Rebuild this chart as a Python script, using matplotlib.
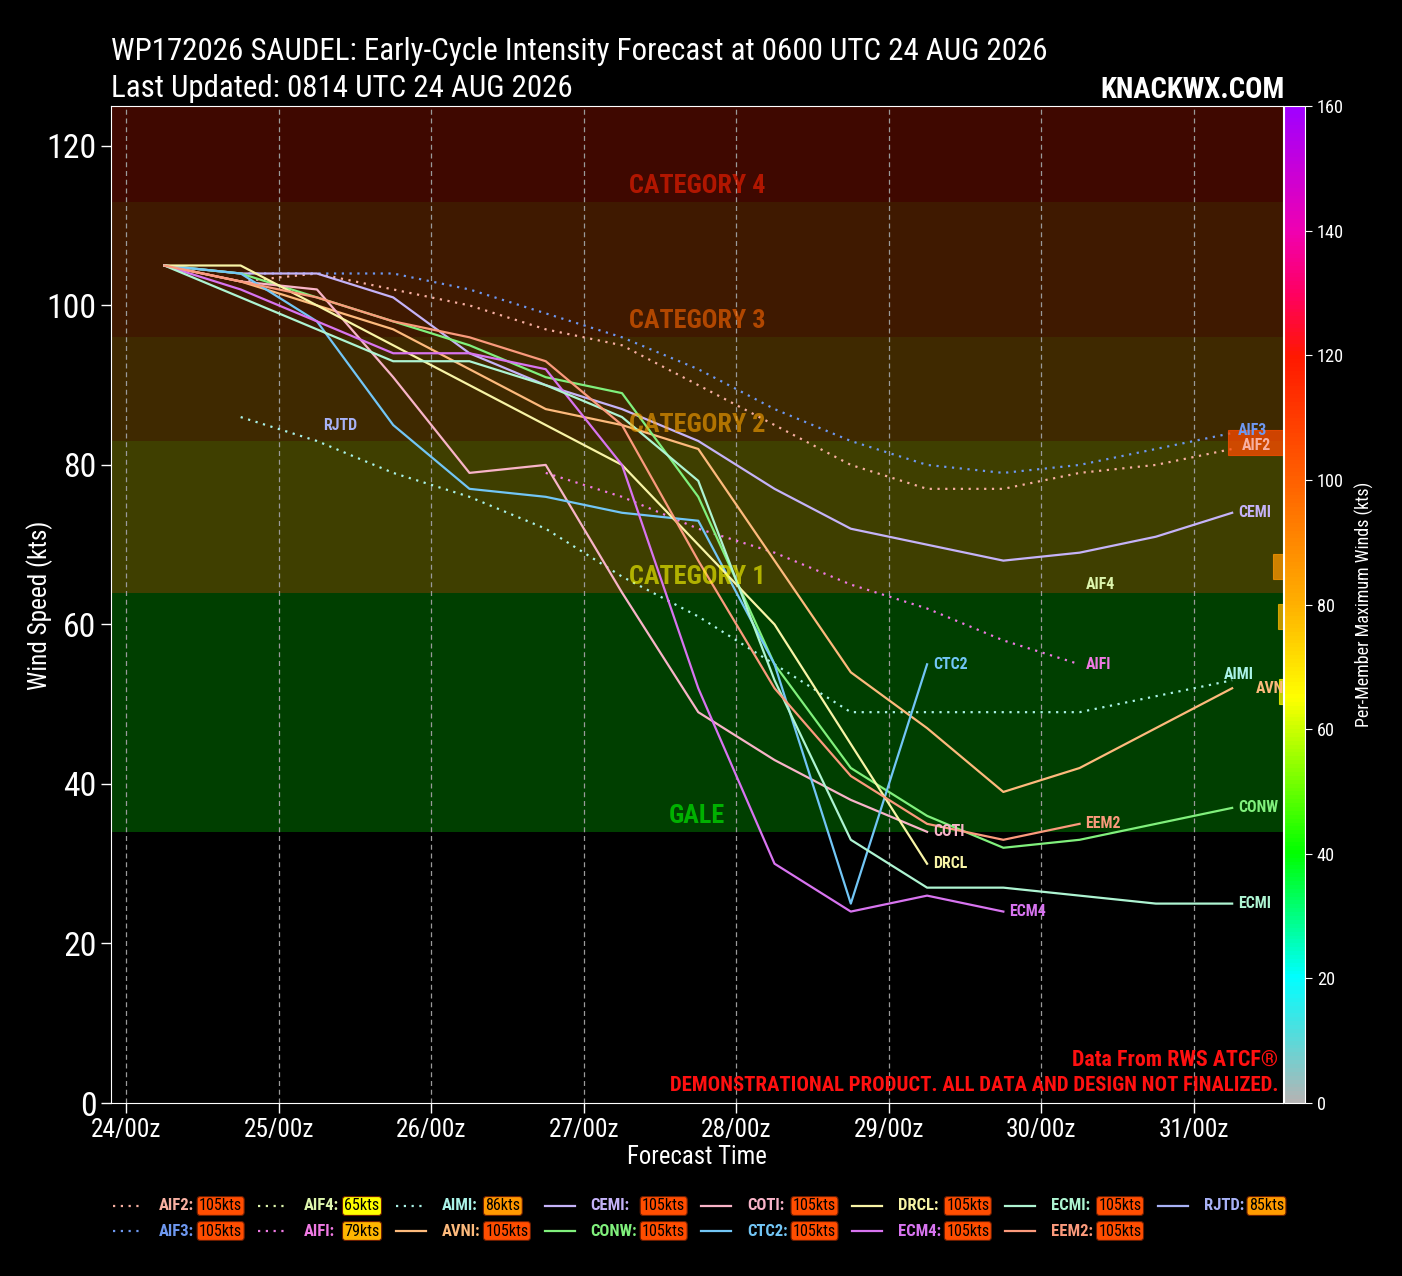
import numpy as np
import matplotlib
matplotlib.use('Agg')
import matplotlib.pyplot as plt
from matplotlib.colors import LinearSegmentedColormap, Normalize
from matplotlib.cm import ScalarMappable
from matplotlib.lines import Line2D
from matplotlib.patches import Rectangle
import matplotlib.transforms as mtransforms

plt.rcParams['font.family'] = ['Roboto Condensed', 'Liberation Sans', 'DejaVu Sans']

W, H = 1402, 1276
nan = np.nan

# forecast hours after 24/00z (cycle 0600 UTC)
fhr = [6, 18, 30, 42, 54, 66, 78, 90, 102, 114, 126, 138, 150, 162, 174]

models = ['AIF2', 'AIF3', 'AIF4', 'AIFI', 'AIMI', 'AVNI', 'CEMI', 'CONW',
          'COTI', 'CTC2', 'DRCL', 'ECM4', 'ECMI', 'EEM2', 'RJTD']

AIF2 = [nan, 103, 104, 102, 100, 97, 95, 90, 85, 80, 77, 77, 79, 80, 82]
AIF3 = [nan, 104, 104, 104, 102, 99, 96, 92, 87, 83, 80, 79, 80, 82, 84]
AIF4 = [nan, nan, nan, nan, nan, nan, nan, nan, nan, nan, nan, nan, 65, nan, nan]
AIFI = [nan, nan, nan, nan, nan, 79, 76, 72, 69, 65, 62, 58, 55, nan, nan]
AIMI = [nan, 86, 83, 79, 76, 72, 66, 61, 55, 49, 49, 49, 49, 51, 53]
AVNI = [105, 103, 100, 97, 92, 87, 85, 82, 68, 54, 47, 39, 42, 47, 52]
CEMI = [105, 104, 104, 101, 94, 90, 87, 83, 77, 72, 70, 68, 69, 71, 74]
CONW = [105, 104, 101, 98, 95, 91, 89, 76, 55, 42, 36, 32, 33, 35, 37]
COTI = [105, 103, 102, 91, 79, 80, 64, 49, 43, 38, 34, nan, nan, nan, nan]
CTC2 = [105, 104, 98, 85, 77, 76, 74, 73, 55, 25, 55, nan, nan, nan, nan]
DRCL = [105, 105, 100, 95, 90, 85, 80, 70, 60, 45, 30, nan, nan, nan, nan]
ECM4 = [105, 102, 98, 94, 94, 92, 80, 52, 30, 24, 26, 24, nan, nan, nan]
ECMI = [105, 101, 97, 93, 93, 90, 86, 78, 53, 33, 27, 27, 26, 25, 25]
EEM2 = [105, 103, 101, 98, 96, 93, 85, 68, 52, 41, 35, 33, 35, nan, nan]
RJTD = [nan, nan, 85, nan, nan, nan, nan, nan, nan, nan, nan, nan, nan, nan, nan]

tracks = dict(zip(models, [AIF2, AIF3, AIF4, AIFI, AIMI, AVNI, CEMI, CONW,
                           COTI, CTC2, DRCL, ECM4, ECMI, EEM2, RJTD]))

max_winds = [105, 105, 65, 79, 86, 105, 105, 105, 105, 105, 105, 105, 105, 105, 85]

colors = ['#f7b0a2', '#6e98f0', '#ddf5ad', '#f07ae4', '#aaf3e8', '#fdba7c',
          '#c5b3f8', '#80f07c', '#f8b4c8', '#72c6f6', '#f8f4a6', '#d874f0',
          '#aef4d2', '#fb9a7c', '#a8b2f6']
ai_models = ['AIF2', 'AIF3', 'AIF4', 'AIFI', 'AIMI']

cat_names = ['GALE', 'CATEGORY 1', 'CATEGORY 2', 'CATEGORY 3', 'CATEGORY 4']
cat_lo = [34, 64, 83, 96, 113]
cat_hi = [64, 83, 96, 113, 137]
cat_colors = ['#00ff00', '#ffff00', '#ffa500', '#ff6600', '#ff2000']

day_ticks = [0, 24, 48, 72, 96, 120, 144, 168]
day_labels = ['24/00z', '25/00z', '26/00z', '27/00z', '28/00z', '29/00z', '30/00z', '31/00z']

# tags hanging off the right edge
edge_tag_kts = [82.8, 67.3, 61.0, 51.6]
edge_tag_max = [105, 86, 79, 65]
edge_tag_left = [173.3, 180.4, 181.2, 181.4]

cmap = LinearSegmentedColormap.from_list('winds', [
    (0 / 160, '#b4b4b4'), (20 / 160, '#00ffff'), (40 / 160, '#00ff00'),
    (65 / 160, '#ffff00'), (80 / 160, '#ffb000'), (100 / 160, '#ff6000'),
    (120 / 160, '#ff1800'), (130 / 160, '#ff0060'), (140 / 160, '#f000b0'),
    (160 / 160, '#a000ff')])
norm = Normalize(0, 160)

fig = plt.figure(figsize=(W / 100, H / 100), dpi=100, facecolor='black')
ax = fig.add_axes([111 / W, 1 - 1103 / H, 1172 / W, 997 / H], facecolor='black')
cax = fig.add_axes([1284 / W, 1 - 1103 / H, 21 / W, 997 / H])

ax.set_xlim(-2.4, 182)
ax.set_ylim(0, 125)

blend = mtransforms.blended_transform_factory(ax.transAxes, ax.transData)
cat_texts = []
for name, lo, hi, c in zip(cat_names, cat_lo, cat_hi, cat_colors):
    ax.axhspan(lo, hi, color=c, alpha=0.25, lw=0, zorder=0)
    t = ax.text(0.5, lo + 2, name, transform=blend, ha='center', va='center',
                color=c, alpha=0.6, fontsize=18, fontweight='bold', zorder=5)
    cat_texts.append(t)

ax.grid(axis='x', color='#9a9a9a', ls=(0, (4, 3)), lw=0.9)
ax.set_axisbelow(True)

dotted = (0, (1, 2.5))
for m, c in zip(models, colors):
    y = np.array(tracks[m], dtype=float)
    ls = dotted if m in ai_models else '-'
    ax.plot(fhr, y, color=c, lw=1.6, ls=ls, zorder=3)

label_nudge = {'AIMI': (-14, 6), 'AVNI': (18, 0), 'AIF3': (0, 3), 'AIF2': (4, 3)}
model_labels = []
for m, c in zip(models, colors):
    y = np.array(tracks[m], dtype=float)
    i = np.where(~np.isnan(y))[0][-1]
    dx, dy = label_nudge.get(m, (0, 0))
    a = ax.annotate(m, (fhr[i], y[i]), xytext=((6 + dx) * 0.72, dy * 0.72),
                    textcoords='offset points', ha='left', va='center', color=c,
                    fontsize=11.5, fontweight='bold', zorder=6,
                    annotation_clip=False, clip_on=True)
    model_labels.append(a)

for kt, mx, x0 in zip(edge_tag_kts, edge_tag_max, edge_tag_left):
    r = Rectangle((x0, kt - 1.55), 30, 3.1, facecolor=cmap(norm(mx)),
                  edgecolor=cmap(norm(mx)), alpha=0.75, lw=0.8, zorder=4)
    ax.add_patch(r)

ax.set_xticks(day_ticks)
ax.set_xticklabels(day_labels)
ax.set_yticks(range(0, 121, 20))
ax.tick_params(colors='white', labelsize=20, length=7, width=1)
for s in ax.spines.values():
    s.set_color('white')

sm = ScalarMappable(norm=norm, cmap=cmap)
cb = fig.colorbar(sm, cax=cax, ticks=range(0, 161, 20))
cb.outline.set_edgecolor('white')
cax.tick_params(colors='white', labelsize=15, length=5)
cb.set_label('Per-Member Maximum Winds (kts)', color='white', fontsize=14, labelpad=8)

ylab = fig.text(40 / W, 1 - 605 / H, 'Wind Speed (kts)', rotation=90, ha='center',
                va='center', color='white', fontsize=19)
xlab = fig.text(697 / W, 1 - 1157 / H, 'Forecast Time', ha='center', va='center',
                color='white', fontsize=19)

title1 = fig.text(111 / W, 1 - 60 / H,
                  'WP172026 SAUDEL: Early-Cycle Intensity Forecast at 0600 UTC 24 AUG 2026',
                  color='white', fontsize=23, va='baseline')
title2 = fig.text(111 / W, 1 - 97 / H, 'Last Updated: 0814 UTC 24 AUG 2026',
                  color='white', fontsize=23, va='baseline')
site = fig.text(1285 / W, 1 - 98 / H, 'KNACKWX.COM', color='white', fontsize=23,
                fontweight='bold', ha='right', va='baseline')

src = fig.text(1278 / W, 1 - 1066 / H, 'Data From RWS ATCF®', color='#ff1010',
               fontsize=15, fontweight='bold', ha='right', va='baseline')
demo = fig.text(1278 / W, 1 - 1091 / H,
                'DEMONSTRATIONAL PRODUCT. ALL DATA AND DESIGN NOT FINALIZED.',
                color='#ff1010', fontsize=15, fontweight='bold', ha='right', va='baseline')

fig.canvas.draw()
renderer = fig.canvas.get_renderer()


def fitted(t, target, vertical=False):
    bb = t.get_window_extent(renderer)
    size = bb.height if vertical else bb.width
    return t.get_fontsize() * target / size


# size the texts to the widths of the reference (its narrow face is not installed)
for t, target in [(title1, 941), (title2, 464), (site, 185), (src, 206),
                  (demo, 611), (xlab, 140)]:
    t.set_fontsize(fitted(t, target))
ylab.set_fontsize(fitted(ylab, 170, vertical=True))
cb.ax.yaxis.label.set_fontsize(fitted(cb.ax.yaxis.label, 248, vertical=True))
cat_size = fitted(cat_texts[4], 137)
for t in cat_texts:
    t.set_fontsize(cat_size)
lab_size = fitted(model_labels[6], 33)
for a in model_labels:
    a.set_fontsize(lab_size)
ax.tick_params(axis='x', labelsize=fitted(ax.get_xticklabels()[0], 71))
ax.tick_params(axis='y', labelsize=fitted(ax.get_yticklabels()[-1], 50))
cax.tick_params(labelsize=fitted(cax.get_yticklabels()[-1], 27))

# legend, drawn by hand: two rows, column-major, spread from x=113 to x=1284
probe = fig.text(0, 0, 'AIF2:', fontsize=12, fontweight='bold')
name_size = fitted(probe, 35)
probe.remove()
probe = fig.text(0, 0, '105kts', fontsize=12)
badge_size = fitted(probe, 43)
probe.remove()

row_y = [1206, 1231]
handle_len, name_gap, badge_gap = 30, 46, 5
columns = []
for col in range(8):
    entries = list(zip(models, colors, max_winds))[2 * col:2 * col + 2]
    names, badges, handles = [], [], []
    for r, (m, c, mx) in enumerate(entries):
        yy = 1 - row_y[r] / H
        ls = dotted if m in ai_models else '-'
        h = Line2D([0, 0], [yy, yy], transform=fig.transFigure, color=c, lw=1.6, ls=ls)
        fig.add_artist(h)
        t = fig.text(0, yy, m + ':', color=c, fontsize=name_size,
                     fontweight='bold', ha='left', va='center')
        b = fig.text(0, yy, f'{mx}kts', color='black', fontsize=badge_size, ha='left',
                     va='center',
                     bbox=dict(boxstyle='round,pad=0.12,rounding_size=0.2',
                               facecolor=cmap(norm(mx)), edgecolor='#6a1c00', lw=0.8))
        handles.append(h)
        names.append(t)
        badges.append(b)
    name_w = max(t.get_window_extent(renderer).width for t in names)
    badge_w = max(b.get_window_extent(renderer).width for b in badges)
    columns.append((handles, names, badges, name_w, badge_w))

content = sum(name_gap + cw[3] + badge_gap + cw[4] for cw in columns)
col_sep = (1284 - 113 - content) / 7
x = 113
for handles, names, badges, name_w, badge_w in columns:
    for h in handles:
        h.set_xdata([x / W, (x + handle_len) / W])
    for t in names:
        t.set_x((x + name_gap) / W)
    bx = x + name_gap + name_w + badge_gap
    for b in badges:
        b.set_x(bx / W)
    x = bx + badge_w + col_sep

fig.savefig('out.png', dpi=100, facecolor='black')
